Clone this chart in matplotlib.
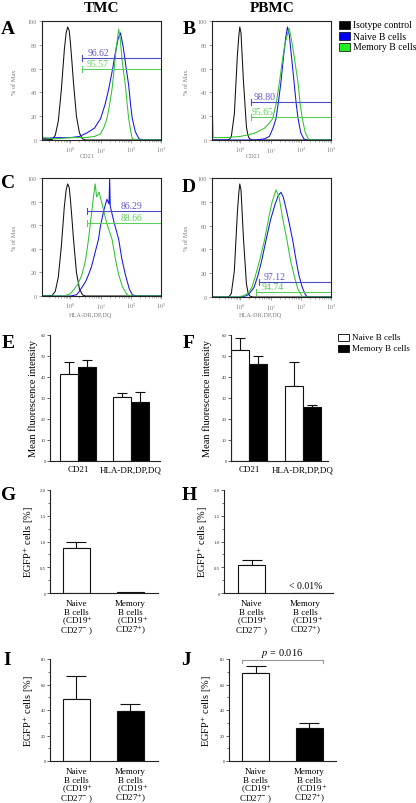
import numpy as np
import matplotlib
matplotlib.use("Agg")
import matplotlib.pyplot as plt
from matplotlib.patches import Rectangle

plt.rcParams["font.family"] = ["Liberation Serif", "DejaVu Serif"]
plt.rcParams["mathtext.fontset"] = "stix"

W, H = 416, 804

# ---- flow histograms: (log10 intensity, % of max) ----
A_iso_x = [-0.95, -0.6, -0.5, -0.4, -0.3, -0.2, -0.14, -0.09, -0.04, 0.0, 0.05, 0.1, 0.2, 0.3, 0.4, 0.5, 3.0]
A_iso_y = [0, 0.5, 4, 16, 42, 76, 90, 95, 92, 82, 66, 49, 20, 6, 1, 0, 0]
A_naive_x = [-0.95, -0.5, 0.0, 0.3, 0.55, 0.8, 1.0, 1.15, 1.27, 1.4, 1.5, 1.58, 1.66, 1.75, 1.85, 1.93, 2.0, 2.05, 2.15, 2.27, 2.4, 3.0]
A_naive_y = [1, 2, 2, 3, 6, 10, 18, 30, 43, 60, 75, 85, 90, 78, 60, 46, 28, 18, 7, 1, 0, 0]
A_mem_x = [-0.94, -0.92, -0.5, 0.0, 0.5, 0.8, 0.99, 1.1, 1.21, 1.3, 1.38, 1.45, 1.52, 1.6, 1.65, 1.72, 1.82, 1.88, 1.93, 2.0, 2.05, 2.2, 3.0]
A_mem_y = [25, 2, 1, 2, 2, 3, 5, 10, 18, 30, 43, 60, 78, 93, 85, 65, 46, 30, 18, 7, 1, 0, 0]

B_iso_x = [-0.95, -0.4, -0.35, -0.3, -0.2, -0.1, -0.05, -0.02, 0.02, 0.1, 0.2, 0.25, 0.3, 0.4, 3.0]
B_iso_y = [0, 0, 1, 3, 22, 71, 88, 95, 90, 50, 11, 4, 1, 0, 0]
B_naive_x = [-0.95, 0.5, 0.8, 0.96, 1.08, 1.18, 1.26, 1.34, 1.42, 1.5, 1.56, 1.62, 1.7, 1.78, 1.85, 1.91, 2.0, 2.1, 2.2, 3.0]
B_naive_y = [0, 0, 1, 3, 10, 18, 32, 48, 68, 86, 95, 88, 68, 48, 30, 18, 6, 1, 0, 0]
B_mem_x = [-0.93, -0.9, -0.5, 0.0, 0.36, 0.5, 0.65, 0.8, 0.95, 1.07, 1.18, 1.29, 1.38, 1.47, 1.55, 1.61, 1.68, 1.77, 1.85, 1.91, 1.98, 2.05, 2.15, 2.27, 3.0]
B_mem_y = [26, 2, 2, 3, 5, 6, 8, 10, 14, 18, 30, 48, 65, 80, 88, 94, 86, 72, 58, 48, 30, 18, 6, 0, 0]

C_iso_x = A_iso_x
C_iso_y = A_iso_y
C_naive_x = [-0.95, 0.0, 0.2, 0.27, 0.4, 0.5, 0.6, 0.7, 0.8, 0.93, 1.0, 1.1, 1.21, 1.28, 1.3, 1.32, 1.45, 1.6, 1.7, 1.82, 1.95, 2.05, 2.2, 3.0]
C_naive_y = [0, 0, 1, 3, 8, 12, 18, 25, 35, 48, 60, 72, 82, 78, 100, 76, 62, 48, 32, 18, 6, 1, 0, 0]
C_mem_x = [-0.95, -0.2, 0.0, 0.1, 0.25, 0.38, 0.5, 0.6, 0.7, 0.77, 0.82, 0.87, 0.95, 1.05, 1.2, 1.38, 1.5, 1.6, 1.72, 1.88, 2.0, 3.0]
C_mem_y = [0, 0, 2, 5, 10, 18, 30, 48, 70, 85, 95, 84, 88, 78, 62, 48, 30, 18, 8, 1, 0, 0]

D_iso_x = B_iso_x
D_iso_y = B_iso_y
D_naive_x = [-0.95, 0.0, 0.2, 0.3, 0.45, 0.58, 0.7, 0.85, 1.0, 1.15, 1.25, 1.34, 1.42, 1.55, 1.65, 1.73, 1.85, 1.94, 2.05, 2.15, 2.22, 3.0]
D_naive_y = [0, 0, 1, 3, 8, 18, 30, 48, 65, 78, 85, 88, 84, 70, 58, 48, 30, 18, 8, 2, 0, 0]
D_mem_x = [-0.95, -0.1, 0.1, 0.25, 0.38, 0.5, 0.65, 0.8, 0.95, 1.05, 1.18, 1.28, 1.4, 1.54, 1.65, 1.78, 1.9, 2.05, 3.0]
D_mem_y = [0, 0, 1, 3, 8, 18, 32, 48, 68, 80, 90, 84, 66, 48, 32, 18, 7, 0, 0]

# gates: (start log10, level, label, label position log10)
A_gates = [(0.38, 69, "96.62", 0.92), (0.38, 60, "95.57", 0.90)]
B_gates = [(0.36, 32, "98.80", 0.80), (0.36, 19.6, "95.65", 0.74)]
C_gates = [(0.55, 72, "86.29", 2.01), (0.55, 62, "88.66", 2.01)]
D_gates = [(0.60, 13, "97.12", 1.12), (0.52, 4, "94.74", 1.07)]

# ---- mean fluorescence intensity ----
mfi_markers = ["CD21", "HLA-DR,DP,DQ"]
E_naive = [41.2, 30.3]
E_naive_err = [6.0, 2.0]
E_mem = [44.7, 28.2]
E_mem_err = [3.6, 4.8]
F_naive = [53.0, 35.8]
F_naive_err = [5.5, 11.3]
F_mem = [46.0, 25.6]
F_mem_err = [4.0, 1.3]

# ---- EGFP+ cells ----
cell_labels = [["Naive", "B cells", " (CD19$^{+}$", "CD27$^{-}$ )"],
               ["Memory", "B cells", "  (CD19$^{+}$", "CD27$^{+}$)"]]
G_vals = [0.87, 0.012]
G_err = [0.13, 0.0]
H_vals = [0.54, 0.0]
H_err = [0.11, 0.0]
I_vals = [49.0, 39.0]
I_err = [17.3, 5.7]
J_vals = [69.3, 25.9]
J_err = [5.0, 3.7]

BLACK = "#111111"
BLUE = "#1414e6"
GREEN = "#2fc42f"
GATE_BLUE = "#4c4cc4"
GATE_GREEN = "#5ccc5c"
TXT_BLUE = "#6a55cc"
TXT_GREEN = "#5ccc5c"
GRAY = "#7a7a7a"


def px_axes(fig, left, top, right, bottom):
    return fig.add_axes([left / W, 1 - bottom / H, (right - left) / W, (bottom - top) / H])


def ftext(fig, x, y, s, **kw):
    fig.text(x / W, 1 - y / H, s, **kw)


def hist_panel(fig, rect, curves, gates):
    ax = px_axes(fig, *rect)
    for xs, ys, c in curves:
        ax.plot(10 ** np.array(xs), ys, color=c, lw=0.75)
    for k, (start, lev, lab, lx) in enumerate(gates):
        c = GATE_BLUE if k == 0 else GATE_GREEN
        tc = TXT_BLUE if k == 0 else TXT_GREEN
        ax.plot([10 ** start, 1000], [lev, lev], color=c, lw=0.8)
        ax.plot([10 ** start, 10 ** start], [lev - 2.5, lev + 2.5], color=c, lw=0.8)
        ax.text(10 ** lx, lev + 0.8, lab, color=tc, fontsize=7, ha="center", va="bottom")
    ax.set_xscale("log")
    ax.set_xlim(10 ** -0.94, 1000)
    ax.set_ylim(0, 100)
    ax.set_xticks([1, 10, 100, 1000])
    ax.set_xticklabels(["$10^{0}$", "$10^{1}$", "$10^{2}$", "$10^{3}$"])
    ax.set_yticks([0, 20, 40, 60, 80, 100])
    ax.tick_params(labelsize=4.5, labelcolor=GRAY, color=GRAY, length=2, width=0.5, pad=1.5)
    ax.tick_params(which="minor", length=1.2, width=0.4, color=GRAY)
    for s in ax.spines.values():
        s.set_linewidth(0.8)
        s.set_color("#222222")
    return ax


def bar_axes(fig, rect, xlim, ylim, yticks, minor=None):
    ax = px_axes(fig, *rect)
    ax.set_xlim(*xlim)
    ax.set_ylim(*ylim)
    ax.set_yticks(yticks)
    if minor is not None:
        ax.set_yticks(minor, minor=True)
    ax.spines["top"].set_visible(False)
    ax.spines["right"].set_visible(False)
    for s in ["left", "bottom"]:
        ax.spines[s].set_linewidth(0.8)
        ax.spines[s].set_color("#222222")
    ax.tick_params(axis="y", labelsize=3.5, length=2, width=0.5, pad=1, color="#222222", labelcolor="#333333")
    ax.tick_params(axis="y", which="minor", length=1.2, width=0.4)
    ax.tick_params(axis="x", length=0, pad=3)
    return ax


fig = plt.figure(figsize=(W / 100, H / 100), dpi=100)

# titles and panel letters
ftext(fig, 101, 8, "TMC", fontsize=11, fontweight="bold", ha="center", va="center")
ftext(fig, 272, 8, "PBMC", fontsize=11, fontweight="bold", ha="center", va="center")
for letter, x, y in [("A", 8, 30), ("B", 189, 30), ("C", 8, 184), ("D", 189, 188),
                     ("E", 8, 344), ("F", 189, 344), ("G", 9, 496), ("H", 189, 496),
                     ("I", 7, 661), ("J", 186, 661)]:
    ftext(fig, x, y, letter, fontsize=14, fontweight="bold", ha="center", va="center")

# histograms
hist_panel(fig, (42, 22, 161, 141),
           [(A_iso_x, A_iso_y, BLACK), (A_naive_x, A_naive_y, BLUE), (A_mem_x, A_mem_y, GREEN)], A_gates)
hist_panel(fig, (212, 22, 331, 141),
           [(B_iso_x, B_iso_y, BLACK), (B_naive_x, B_naive_y, BLUE), (B_mem_x, B_mem_y, GREEN)], B_gates)
hist_panel(fig, (42, 179, 161, 297),
           [(C_iso_x, C_iso_y, BLACK), (C_naive_x, C_naive_y, BLUE), (C_mem_x, C_mem_y, GREEN)], C_gates)
hist_panel(fig, (212, 179, 331, 298),
           [(D_iso_x, D_iso_y, BLACK), (D_naive_x, D_naive_y, BLUE), (D_mem_x, D_mem_y, GREEN)], D_gates)

for x, y in [(15, 82), (187, 82), (15, 238), (186, 238)]:
    ftext(fig, x, y, "% of Max", fontsize=4.5, color=GRAY, rotation=90, ha="center", va="center")
ftext(fig, 87, 157, "CD21", fontsize=4.5, color=GRAY, ha="center", va="center")
ftext(fig, 253, 157, "CD21", fontsize=4.5, color=GRAY, ha="center", va="center")
ftext(fig, 90, 316, "HLA-DR,DP,DQ", fontsize=4.5, color=GRAY, ha="center", va="center")
ftext(fig, 260, 316, "HLA-DR,DP,DQ", fontsize=4.5, color=GRAY, ha="center", va="center")

# histogram legend
for i, (lab, c) in enumerate([("Isotype control", "#000000"), ("Naive B cells", "#0000ee"),
                              ("Memory B cells", "#22ee22")]):
    y = 26 + 11 * i
    fig.add_artist(Rectangle((339 / W, 1 - (y + 4) / H), 11 / W, 8 / H, transform=fig.transFigure,
                             facecolor=c, edgecolor="#000000", lw=0.5))
    ftext(fig, 353, y, lab, fontsize=7, ha="left", va="center")

# E / F mean fluorescence intensity
pos = np.arange(len(mfi_markers))
for rect, xlim, naive, nerr, mem, merr, ylx in [
        ((50, 336, 160, 462), (-0.53, 1.55), E_naive, E_naive_err, E_mem, E_mem_err, 33),
        ((231, 336, 328, 462), (-0.33, 1.46), F_naive, F_naive_err, F_mem, F_mem_err, 207)]:
    ax = bar_axes(fig, rect, xlim, (0, 60), [0, 10, 20, 30, 40, 50, 60])
    w = 0.335
    ax.bar(pos - w / 2, naive, w, color="white", edgecolor="#111111", lw=0.8, zorder=2)
    ax.bar(pos + w / 2, mem, w, color="black", edgecolor="#111111", lw=0.8, zorder=2)
    ax.errorbar(pos - w / 2, naive, yerr=[np.zeros(len(nerr)), nerr], fmt="none",
                ecolor="#111111", elinewidth=0.8, capsize=3.5, capthick=0.8, zorder=1)
    ax.errorbar(pos + w / 2, mem, yerr=[np.zeros(len(merr)), merr], fmt="none",
                ecolor="#111111", elinewidth=0.8, capsize=3.5, capthick=0.8, zorder=1)
    ax.set_xticks(pos)
    ax.set_xticklabels(mfi_markers, fontsize=6.5)
    ftext(fig, ylx, 399, "Mean fluorescence intensity", fontsize=7.5, rotation=90, ha="center", va="center")

for i, (lab, c) in enumerate([("Naive B cells", "white"), ("Memory B cells", "black")]):
    y = 338 + 11 * i
    fig.add_artist(Rectangle((338 / W, 1 - (y + 3.5) / H), 11 / W, 7 / H, transform=fig.transFigure,
                             facecolor=c, edgecolor="#000000", lw=0.6))
    ftext(fig, 352, y, lab, fontsize=6.5, ha="left", va="center")

# G - J EGFP+ cells
cpos = np.arange(len(cell_labels))
panels = [
    ((50, 491, 158, 594), (-0.49, 1.51), (0, 2.0), [0, 0.5, 1.0, 1.5, 2.0], [0.25, 0.75, 1.25, 1.75], G_vals, G_err, 29, 542),
    ((224, 491, 333, 594), (-0.51, 1.51), (0, 2.0), [0, 0.5, 1.0, 1.5, 2.0], [0.25, 0.75, 1.25, 1.75], H_vals, H_err, 203, 542),
    ((50, 660, 158, 762), (-0.49, 1.51), (0, 80), [0, 20, 40, 60, 80], [10, 30, 50, 70], I_vals, I_err, 29, 711),
    ((229, 660, 336, 762), (-0.50, 1.50), (0, 80), [0, 20, 40, 60, 80], [10, 30, 50, 70], J_vals, J_err, 207, 711),
]
row_offsets = [8.3, 14.9, 21.4, 28.4]  # baselines below the axis, points
axes_gj = []
for rect, xlim, ylim, yt, ymin, vals, err, ylx, yly in panels:
    ax = bar_axes(fig, rect, xlim, ylim, yt, ymin)
    ax.yaxis.set_major_formatter(plt.FuncFormatter(lambda v, p: f"{v:.0f}" if v > 2 or v == 0 else f"{v:.1f}"))
    ax.bar(cpos, vals, 0.5, color=["white", "black"], edgecolor="#111111", lw=0.8, zorder=2)
    show = [i for i in cpos if err[i] > 0]
    ax.errorbar(cpos[show], np.array(vals)[show], yerr=[np.zeros(len(show)), np.array(err)[show]],
                fmt="none", ecolor="#111111", elinewidth=0.8, capsize=7, capthick=0.8, zorder=1)
    ax.set_xticks(cpos)
    ax.set_xticklabels([])
    for xi, lines in zip(cpos, cell_labels):
        for off, line in zip(row_offsets, lines):
            ax.annotate(line, xy=(xi, 0), xycoords=("data", "axes fraction"),
                        xytext=(0, -off), textcoords="offset points",
                        fontsize=6.5, ha="center", va="baseline", annotation_clip=False)
    ftext(fig, ylx, yly, "EGFP$^{+}$ cells [%]", fontsize=7.5, rotation=90, ha="center", va="center")
    axes_gj.append(ax)

axes_gj[1].text(1.0, 0.155, "< 0.01%", fontsize=7, ha="center", va="center")

axj = axes_gj[3]
yb = 79.2
axj.plot([-0.25, -0.25, 1.25, 1.25], [yb - 2.2, yb, yb, yb - 2.2], color="#999999", lw=0.8, clip_on=False)
axj.text(0.5, yb + 0.9, "$p$ = 0.016", fontsize=7.5, ha="center", va="bottom")

fig.savefig("out.png", dpi=100)
